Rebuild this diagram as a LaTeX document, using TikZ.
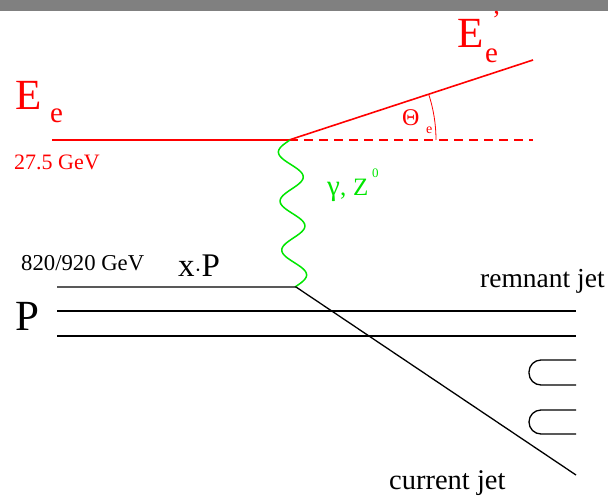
\documentclass[tikz,border=0pt]{standalone}
\usepackage{fontspec}
\setmainfont{Liberation Serif}
\definecolor{barg}{RGB}{128,128,128}
\definecolor{glu}{RGB}{0,230,0}
\tikzset{
  lbl/.style={inner sep=0pt, anchor=base west},
  elec/.style={red, line width=1.6pt},
  prot/.style={black, line width=1.3pt},
  hair/.style={black, line width=1.3pt, rounded corners=12pt},
}
\newcommand{\fs}[1]{\fontsize{#1}{#1}\selectfont}
\begin{document}
\begin{tikzpicture}[x=1pt,y=-1pt]
\useasboundingbox (0,0) rectangle (608,496);
\fill[barg] (0,0) rectangle (608,11);
% coordinates
\coordinate (ein) at (52,140);
\coordinate (ev) at (289,140);
\coordinate (eout) at (533,60);
\coordinate (edash) at (533,140);
\coordinate (pv) at (296,287);
\coordinate (pin) at (57,287);
\coordinate (cj) at (576,475);
% electron
\draw[elec] (ein) -- (ev) -- (eout);
\draw[elec, dashed, dash pattern=on 9pt off 6pt] (ev) -- (edash);
\draw[red, line width=0.8pt] (ev) ++(-18.2:147) arc[start angle=-18.2, end angle=0, radius=147] coordinate (arcend);
% boson
\draw[glu, line width=1.5pt] plot[domain=0:147, samples=120, smooth] ({290-12*sin(7.3469*\x)+5*\x/147}, {140+\x});
% proton lines
\draw[prot] (pin) -- (pv) -- (cj);
\coordinate (p2a) at (57,311); \coordinate (p2b) at (576,311);
\coordinate (p3a) at (57,336); \coordinate (p3b) at (576,336);
\draw[prot] (p2a) -- (p2b);
\draw[prot] (p3a) -- (p3b);
% hairpins
\draw[hair] (576,360) -- (529,360) -- (529,385) -- (576,385);
\draw[hair] (576,410) -- (529,410) -- (529,434) -- (576,434);
% labels
\node[lbl, red, font=\fs{43}] (Ee) at (15,109) {E};
\node[lbl, red, font=\fs{29}] (Ees) at (50,122) {e};
\node[lbl, red, font=\fs{22}] (Een) at (14,169) {27.5 GeV};
\node[lbl, red, font=\fs{43}] (Ep) at (457,47) {E};
\node[lbl, red, font=\fs{29}] (Eps) at (485,62) {e};
\node[lbl, red, font=\fs{26}] (Epr) at (492,28) {’};
\node[lbl, red, font=\fs{24}] (Th) at (402,125) {Θ};
\node[lbl, red, font=\fs{14}] (Ths) at (426,133) {e};
\node[lbl, glu, font=\fs{29}] (gz) at (327,195) {γ};
\node[lbl, glu, font=\fs{25}] (gzc) at (340,195) {,};
\node[lbl, glu, font=\fs{25}] (gzZ) at (353,195) {Z};
\node[lbl, glu, font=\fs{13}] (gz0) at (372,177) {0};
\node[lbl, font=\fs{22.7}] (pen) at (21,270) {820/920 GeV};
\node[lbl, font=\fs{33}] (xp) at (178,276) {x$\cdot$P};
\node[lbl, font=\fs{43}] (P) at (15,330) {P};
\node[lbl, font=\fs{27.5}] (rj) at (480,287) {remnant jet};
\node[lbl, font=\fs{28.5}] (cjl) at (389,489) {current jet};
\end{tikzpicture}
\end{document}
